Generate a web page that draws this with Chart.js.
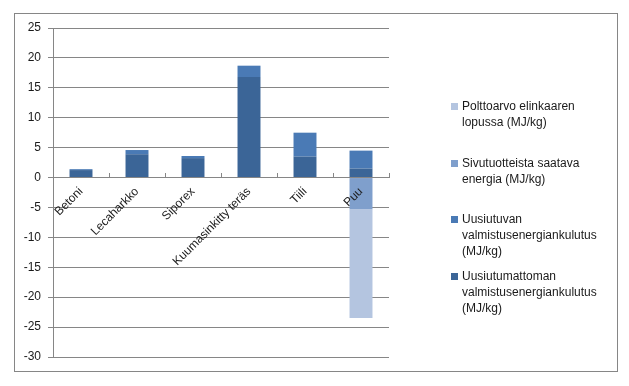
<!DOCTYPE html>
<html>
<head>
<meta charset="utf-8">
<script src="https://cdn.jsdelivr.net/npm/chart.js@4"></script>
<style>
html,body{margin:0;padding:0;background:#fff;}
#wrap{width:629px;height:386px;position:relative;}
</style>
</head>
<body>
<div id="wrap"><canvas id="c" width="629" height="386"></canvas></div>
<script>
const categories = ["Betoni", "Lecaharkko", "Siporex", "Kuumasinkitty teräs", "Tiili", "Puu"];
const nonRenewable = [1.25, 3.9, 3.25, 16.8, 3.5, 1.5];
const renewable = [0.15, 0.7, 0.35, 1.9, 4.0, 3.0];
const byProducts = [0, 0, 0, 0, 0, -5.3];
const heatingValue = [0, 0, 0, 0, 0, -18.2];
const yTicks = [25, 20, 15, 10, 5, 0, -5, -10, -15, -20, -25, -30];
const seriesLabels = [
  ["Uusiutumattoman", "valmistusenergiankulutus", "(MJ/kg)"],
  ["Uusiutuvan", "valmistusenergiankulutus", "(MJ/kg)"],
  ["Sivutuotteista saatava", "energia (MJ/kg)"],
  ["Polttoarvo elinkaaren", "lopussa (MJ/kg)"]
];
const colors = ["#3b6597", "#4a7ab5", "#7f9fcc", "#b4c5e0"];
const FONT = "Liberation Sans";

const frameAndLegend = {
  id: 'frameAndLegend',
  beforeDraw(chart) {
    const ctx = chart.ctx;
    ctx.save();
    ctx.fillStyle = '#fff';
    ctx.fillRect(0, 0, chart.width, chart.height);
    ctx.strokeStyle = '#868686';
    ctx.lineWidth = 1;
    ctx.strokeRect(14.5, 13.5, 603, 358);
    ctx.restore();
  },
  afterDraw(chart) {
    const ctx = chart.ctx;
    ctx.save();
    ctx.font = "12px '" + FONT + "'";
    ctx.textBaseline = 'middle';
    ctx.textAlign = 'left';
    const order = [3, 2, 1, 0];
    const startY = [107, 164, 220, 277];
    order.forEach((di, k) => {
      const ds = chart.data.datasets[di];
      const y0 = startY[k];
      ctx.fillStyle = ds.backgroundColor;
      ctx.fillRect(451, y0 - 4, 7, 7);
      ctx.fillStyle = '#1a1a1a';
      seriesLabels[di].forEach((line, i) => {
        ctx.fillText(line, 462, y0 + i * 16);
      });
    });
    ctx.restore();
  }
};

new Chart(document.getElementById('c'), {
  type: 'bar',
  data: {
    labels: categories,
    datasets: [
      { label: seriesLabels[0].join(' '), data: nonRenewable, backgroundColor: colors[0] },
      { label: seriesLabels[1].join(' '), data: renewable, backgroundColor: colors[1] },
      { label: seriesLabels[2].join(' '), data: byProducts, backgroundColor: colors[2] },
      { label: seriesLabels[3].join(' '), data: heatingValue, backgroundColor: colors[3] }
    ]
  },
  options: {
    responsive: false,
    animation: false,
    devicePixelRatio: 1,
    layout: { padding: { left: 0, top: 28, right: 240, bottom: 29 } },
    datasets: { bar: { categoryPercentage: 1, barPercentage: 0.41, borderWidth: 0 } },
    plugins: { legend: { display: false }, tooltip: { enabled: false } },
    scales: {
      x: {
        stacked: true,
        position: { y: 0 },
        afterFit(s) { s.height = 0; },
        grid: { display: true, drawOnChartArea: false, drawTicks: true, tickLength: -5, color: '#868686', offset: true, z: 1 },
        border: { display: true, color: '#868686', z: 1 },
        ticks: { z: 2, minRotation: 45, maxRotation: 45, autoSkip: false, padding: 12, color: '#1a1a1a', font: { family: FONT, size: 12 } }
      },
      y: {
        stacked: true,
        min: -30, max: 25,
        afterFit(s) { s.width = 53; },
        afterBuildTicks(s) { s.ticks = yTicks.map(v => ({ value: v })); },
        grid: { color: '#868686', tickLength: 5, drawTicks: true },
        border: { display: true, color: '#868686' },
        ticks: { padding: 7, color: '#1a1a1a', font: { family: FONT, size: 12 } }
      }
    }
  },
  plugins: [frameAndLegend]
});
</script>
</body>
</html>
